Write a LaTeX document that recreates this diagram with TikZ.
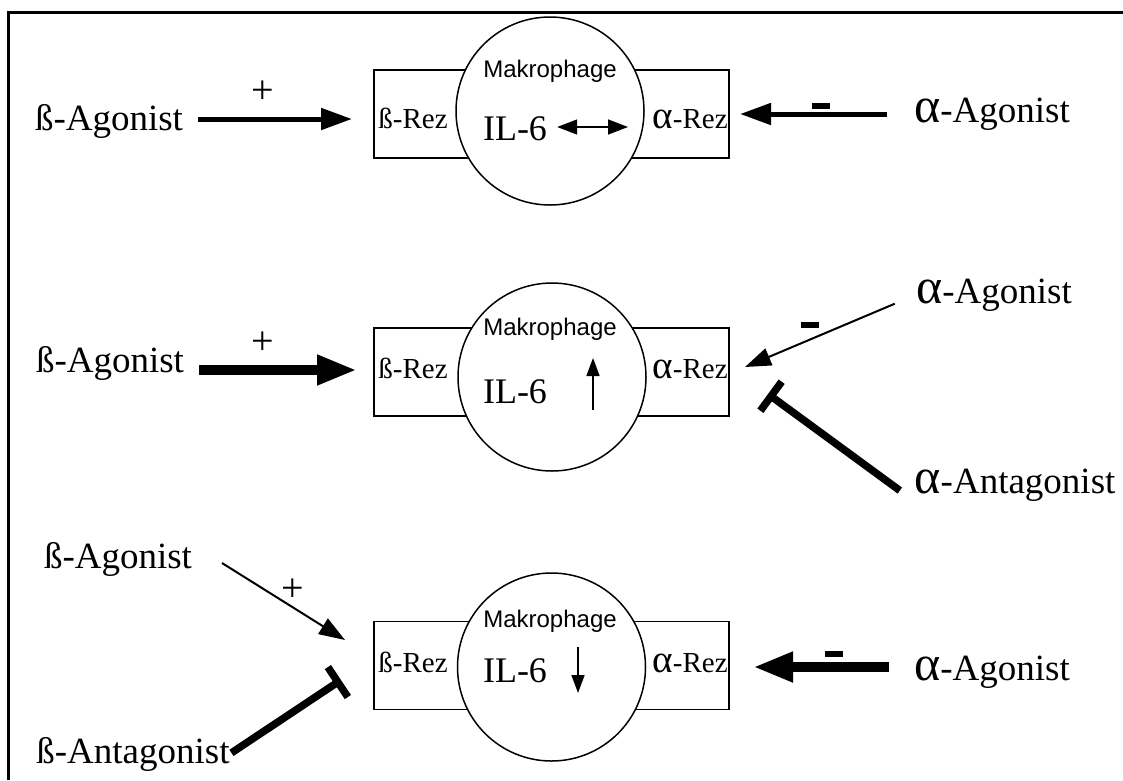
\documentclass[tikz,border=0pt]{standalone}
\usepackage{fontspec}
\setmainfont{Liberation Serif}
\newfontfamily\arialfont{Liberation Sans}
\usetikzlibrary{arrows.meta}
\usetikzlibrary{positioning}
\newcommand{\alf}{\scalebox{1.35}{α}}

\begin{document}
\begin{tikzpicture}[x=1pt,y=-1pt]
\tikzstyle{receptor}=[rectangle,draw=black,line width=1.5pt,
minimum width=355pt,minimum height=88pt,inner sep=0pt]
\tikzstyle{cell}=[circle,draw=black,fill=white,line width=1.5pt,
inner sep=0pt,minimum size=188pt]
\tikzstyle{drug}=[inner sep=0pt,anchor=base,font=\fontsize{37}{40}\selectfont]
\tikzstyle{rez}=[inner sep=0pt,anchor=base,font=\fontsize{29}{32}\selectfont]
\tikzstyle{ilsix}=[inner sep=0pt,anchor=base,font=\fontsize{36}{40}\selectfont]
\tikzstyle{mak}=[inner sep=0pt,anchor=base,font=\arialfont\fontsize{24}{28}\selectfont]
\tikzstyle{plussign}=[inner sep=0pt,font=\fontsize{40}{42}\selectfont]
\tikzstyle{minussign}=[rectangle,fill=black,inner sep=0pt,
minimum width=18pt,minimum height=6pt]
\tikzstyle{thin}=[line width=2pt,-{Triangle[length=26pt,width=18pt]}]
\tikzstyle{mid}=[line width=5pt,-{Triangle[length=31pt,width=21pt]}]
\tikzstyle{fat}=[line width=10pt,-{Triangle[length=40pt,width=28pt]}]
\tikzstyle{block}=[line width=7.5pt,-{Bar[width=36pt]}]
\tikzstyle{inner}=[line width=1.5pt,-{Triangle[length=18pt,width=13pt]}]
\useasboundingbox (0,0) rectangle (1123,780);
\draw[line width=3pt] (8,780) -- (8,12) -- (1123,12);

% first row: beta and alpha agonist
\node[receptor] (box1) at (551.5,114) {};
\node[cell] (cell1) at (550,111) {};
\node[mak] (mak1) at (550,77) {Makrophage};
\node[ilsix] (il1) at (515,140) {IL-6};
\node[rez] (brez1) at (413,128) {ß-Rez};
\node[rez] (arez1) at (690,128) {\alf-Rez};
\node[drug] (bag1) at (109,130) {ß-Agonist};
\node[drug] (aag1) at (992,122) {\alf-Agonist};
\node[plussign] (plus1) at (263,92) {+};
\node[minussign] (minus1) at (821,106) {};
\coordinate (b1tip) at (352,119);
\coordinate (a1tip) at (740,114);
\coordinate (il1tip) at (628,127);
\draw[mid] (bag1.east |- b1tip) -- (b1tip) [shorten <=15pt];
\draw[mid] (aag1.west |- a1tip) -- (a1tip) [shorten <=27pt];
\draw[line width=1.5pt,{Triangle[length=20pt,width=15pt]}-{Triangle[length=20pt,width=15pt]}]
  (il1.east |- il1tip) -- (il1tip) [shorten <=10pt];

% second row: alpha antagonist
\node[receptor] (box2) at (551.5,372) {};
\node[cell] (cell2) at (552,377) {};
\node[mak] (mak2) at (550,335) {Makrophage};
\node[ilsix] (il2) at (515,403) {IL-6};
\node[rez] (brez2) at (413,378) {ß-Rez};
\node[rez] (arez2) at (690,378) {\alf-Rez};
\node[drug] (bag2) at (110,372) {ß-Agonist};
\node[drug] (aag2) at (994,303) {\alf-Agonist};
\node[drug] (aant2) at (1015,493) {\alf-Antagonist};
\node[plussign] (plus2) at (263,343) {+};
\node[minussign] (minus2) at (810,325) {};
\coordinate (b2tip) at (357,370);
\coordinate (a2tip) at (745,367);
\coordinate (t2tip) at (768,394);
\coordinate (up2tail) at (593,410);
\coordinate (up2tip) at (593,358);
\draw[fat] (bag2.east |- b2tip) -- (b2tip) [shorten <=15pt];
\draw[thin] (aag2.west) -- (a2tip) [shorten <=23pt];
\draw[block] (aant2.south west) -- (t2tip) [shorten <=18pt];
\draw[inner] (up2tail) -- (up2tip);

% third row: beta antagonist
\node[receptor] (box3) at (551.5,665.5) {};
\node[cell] (cell3) at (551.5,667) {};
\node[mak] (mak3) at (550,627) {Makrophage};
\node[ilsix] (il3) at (515,682) {IL-6};
\node[rez] (brez3) at (413,672) {ß-Rez};
\node[rez] (arez3) at (690,672) {\alf-Rez};
\node[drug] (bag3) at (118,568) {ß-Agonist};
\node[drug] (bant3) at (133,763) {ß-Antagonist};
\node[drug] (aag3) at (992,680) {\alf-Agonist};
\node[plussign] (plus3) at (293,590) {+};
\node[minussign] (minus3) at (834,654) {};
\coordinate (b3tail) at (222,563);
\coordinate (b3tip) at (345,640);
\coordinate (t3tip) at (341,680);
\coordinate (a3tip) at (753,667);
\coordinate (dn3tail) at (578,647);
\coordinate (dn3tip) at (578,693);
\draw[thin] (b3tail) -- (b3tip);
\draw[block] (bant3.east) -- (t3tip) [shorten <=2pt];
\draw[fat] (aag3.west |- a3tip) -- (a3tip) [shorten <=25pt];
\draw[inner] (dn3tail) -- (dn3tip);
\end{tikzpicture}
\end{document}
